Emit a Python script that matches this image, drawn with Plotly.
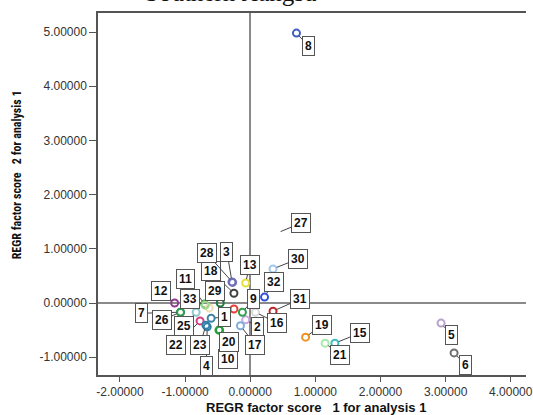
import plotly.graph_objects as go

# Case numbers and regression factor scores (analysis 1)
cases = [1, 2, 3, 4, 5, 6, 7, 8, 9, 10, 11, 12, 13, 14, 15, 16, 17,
         18, 19, 20, 21, 22, 23, 24, 25, 26, 27, 28, 29, 30, 31, 32, 33]
factor1 = [-0.60, -0.07, -0.28, -0.66, 2.93, 3.13, -1.07, 0.71, -0.12, -0.47,
           -0.70, -1.16, -0.07, -0.25, 1.30, 0.08, -0.15, -0.25, 0.85, -0.48,
           1.15, -0.77, -0.68, -0.63, -0.83, -1.07, 0.41, -0.27, -0.46, 0.35,
           0.35, 0.22, -0.69]
factor2 = [-0.28, -0.31, 0.39, -0.44, -0.37, -0.92, -0.17, 4.98, -0.17, -0.50,
           -0.02, 0.00, 0.37, -0.11, -0.74, -0.17, -0.42, 0.18, -0.63, -0.50,
           -0.74, -0.33, -0.41, -0.09, -0.17, -0.17, 1.29, 0.38, 0.00, 0.63,
           -0.15, 0.11, -0.04]

x_ticks = [-2, -1, 0, 1, 2, 3, 4]
y_ticks = [-1, 0, 1, 2, 3, 4, 5]

# marker colour per case
colors = ["#3D85A8", "#C9A8E0", "#6E6EB4", "#2F7FA5", "#B8A0D0", "#707070",
          "#3CA050", "#3E5FC0", "#2DA048", "#2A9A3A", "#4CAF50", "#8E3A8E",
          "#E6E03A", "#E8403A", "#3BBFC0", "#D8D8D8", "#7FAEDC", "#404040",
          "#F09020", "#23A03A", "#A8E8A8", "#D04080", "#2F80A8", "#E8E0B0",
          "#90C8D0", "#2A9D50", "#FFFFFF", "#7070B8", "#1E7A3A", "#A0C8EE",
          "#C02828", "#3050E0", "#A0D890"]

# label box offsets in pixels (dx, dy) from each point; None = no label
label_offsets = {
    1: (13, -1), 2: (12, 7), 3: (-5, -30), 4: (-1, 39), 5: (10, 12),
    6: (11, 12), 7: (-39, 1), 8: (12, 13), 9: (11, -13), 10: (8, 29),
    11: (-19, -25), 12: (-14, -12), 13: (4, -18), 15: (25, -10),
    16: (22, 11), 17: (15, 19), 18: (-23, -22), 19: (16, -12),
    20: (10, 12), 21: (15, 12), 22: (-24, 24), 23: (-6, 20),
    25: (-12, 14), 26: (-19, 8), 27: (24, -10), 28: (-26, -29),
    29: (-5, -12), 30: (25, -10), 31: (27, -12), 32: (9, -15),
    33: (-15, -6),
}

W, H = 533, 415
ML, MT, MR, MB = 98, 13, 0, 40
PW, PH = W - ML - MR, H - MT - MB

fig = go.Figure()
fig.add_trace(go.Scatter(
    x=factor1, y=factor2, mode="markers",
    marker=dict(symbol="circle-open", size=7, color=colors,
                line=dict(width=2, color=colors)),
    hoverinfo="skip", showlegend=False,
))

annotations = []
for c, xv, yv in zip(cases, factor1, factor2):
    off = label_offsets.get(c)
    if off is None:
        continue
    annotations.append(dict(
        x=xv, y=yv, xref="x", yref="y", text=f"<b>{c}</b>",
        showarrow=True, arrowhead=0, arrowwidth=1, arrowcolor="#444444",
        ax=off[0], ay=off[1], standoff=4,
        font=dict(family="Arial, Liberation Sans", size=12, color="#111111"),
        bgcolor="white", bordercolor="#555555", borderwidth=1, borderpad=2,
    ))

# axis titles and header
annotations.append(dict(
    text="<b>REGR factor score\u00a0\u00a0\u00a01 for analysis 1</b>",
    xref="paper", yref="paper", x=(320 - ML) / PW, y=(H - MB - 407) / PH,
    xanchor="center", yanchor="middle", showarrow=False,
    font=dict(family="Arial, Liberation Sans", size=13, color="#111111"),
))
annotations.append(dict(
    text="<b>REGR factor score\u00a0\u00a0\u00a02 for analysis 1</b>",
    xref="paper", yref="paper", x=(16 - ML) / PW, y=(H - MB - 175) / PH,
    xanchor="center", yanchor="middle", showarrow=False, textangle=-90,
    font=dict(family="Liberation Sans Narrow, Arial Narrow, Roboto Condensed, sans-serif",
              size=12, color="#111111"),
))
annotations.append(dict(
    text="Southern Jiangsu",
    xref="paper", yref="paper", x=(233 - ML) / PW, y=(H - MB + 7) / PH,
    xanchor="center", yanchor="middle", showarrow=False,
    font=dict(family="Liberation Serif, Times New Roman, serif", size=25, color="#111111"),
))

fig.update_layout(
    width=W, height=H,
    margin=dict(l=ML, r=MR, t=MT, b=MB, pad=0),
    paper_bgcolor="white", plot_bgcolor="white",
    annotations=annotations,
    xaxis=dict(
        range=[-2.337, 4.234], tickvals=x_ticks,
        ticktext=[f"{v:.5f}" for v in x_ticks],
        ticklabeloverflow="allow",
        showgrid=False, zeroline=True, zerolinecolor="#8A8A8A", zerolinewidth=1.5,
        showline=True, linecolor="#555555", linewidth=1.5, mirror=True,
        ticks="outside", ticklen=5, tickcolor="#555555",
        tickfont=dict(family="Arial, Liberation Sans", size=12, color="#333333"),
    ),
    yaxis=dict(
        range=[-1.328, 5.351], tickvals=y_ticks,
        ticktext=[f"{v:.5f}" for v in y_ticks],
        showgrid=False, zeroline=True, zerolinecolor="#8A8A8A", zerolinewidth=1.5,
        showline=True, linecolor="#555555", linewidth=1.5, mirror=False,
        ticks="outside", ticklen=7, tickcolor="#555555",
        tickfont=dict(family="Arial, Liberation Sans", size=12, color="#333333"),
    ),
)

fig.write_html("out.html")
